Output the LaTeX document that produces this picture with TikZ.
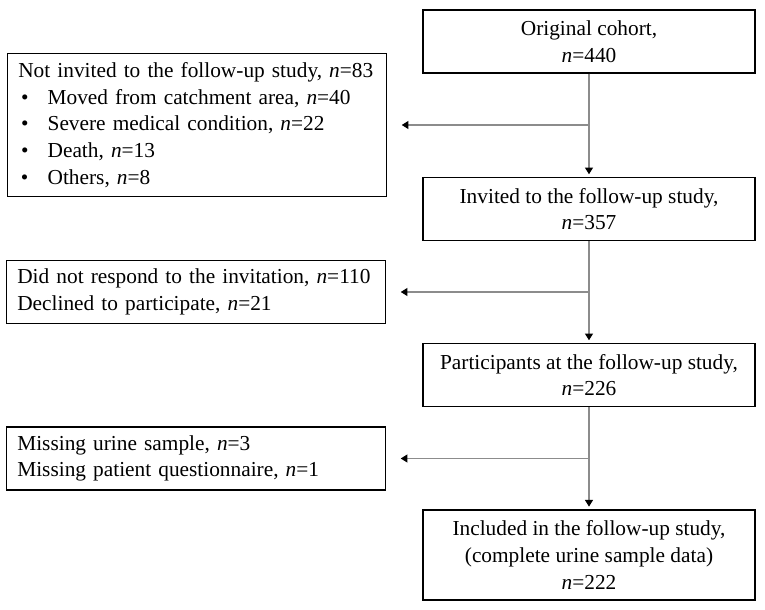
\documentclass[tikz,border=0pt]{standalone}
\usepackage{fontspec}
\setmainfont{Liberation Serif}
\usetikzlibrary{calc}
\usetikzlibrary{arrows.meta}

\definecolor{linegray}{RGB}{140,140,140}
\newcommand{\nn}{\textit{n}}
\newcommand{\bitem}{\hspace*{2pt}\makebox[20pt][l]{\textbullet}}

\tikzset{
  mainbox/.style={draw=black, line width=1.1pt, minimum width=249pt, minimum height=47pt, align=center, inner sep=2pt},
  sidebox/.style={draw=black, line width=1.1pt, text width=268pt, minimum height=47pt, align=left, inner xsep=8pt, inner ysep=2pt},
  flow/.style={linegray, line width=0.8pt, -{Triangle[color=black, width=6pt, length=5pt]}}
}

\begin{document}
\begin{tikzpicture}[x=0.75pt, y=-0.75pt, font=\fontsize{16}{20}\selectfont]

\useasboundingbox (0,0) rectangle (765,610);

% main column
\node[mainbox] (orig) at (589,41.5) {Original cohort,\\\nn=440};
\node[mainbox] (invited) at (589,209) {Invited to the follow-up study,\\\nn=357};
\node[mainbox] (partic) at (589,375) {Participants at the follow-up study,\\\nn=226};
\node[mainbox, minimum height=67.5pt] (incl) at (589,555) {Included in the follow-up study,\\(complete urine sample data)\\\nn=222};

% exclusions
\node[sidebox, minimum height=107pt] (notinv) at (197,125) {\mbox{Not invited to the follow-up study, \nn=83}\\
\bitem Moved from catchment area, \nn=40\\
\bitem Severe medical condition, \nn=22\\
\bitem Death, \nn=13\\
\bitem Others, \nn=8};
\node[sidebox] (noresp) at (196,292) {Did not respond to the invitation, \nn=110\\Declined to participate, \nn=21};
\node[sidebox] (missing) at (196,458.5) {Missing urine sample, \nn=3\\Missing patient questionnaire, \nn=1};

\draw[flow, shorten >=2pt] (orig) -- (invited);
\draw[flow, shorten >=2pt] (invited) -- (partic);
\draw[flow, shorten >=2pt] (partic) -- (incl);

\draw[flow, shorten >=11pt] (orig.south |- notinv.east) -- (notinv.east);
\draw[flow, shorten >=11pt] (invited.south |- noresp.east) -- (noresp.east);
\draw[flow, shorten >=11pt] (partic.south |- missing.east) -- (missing.east);

\end{tikzpicture}
\end{document}
